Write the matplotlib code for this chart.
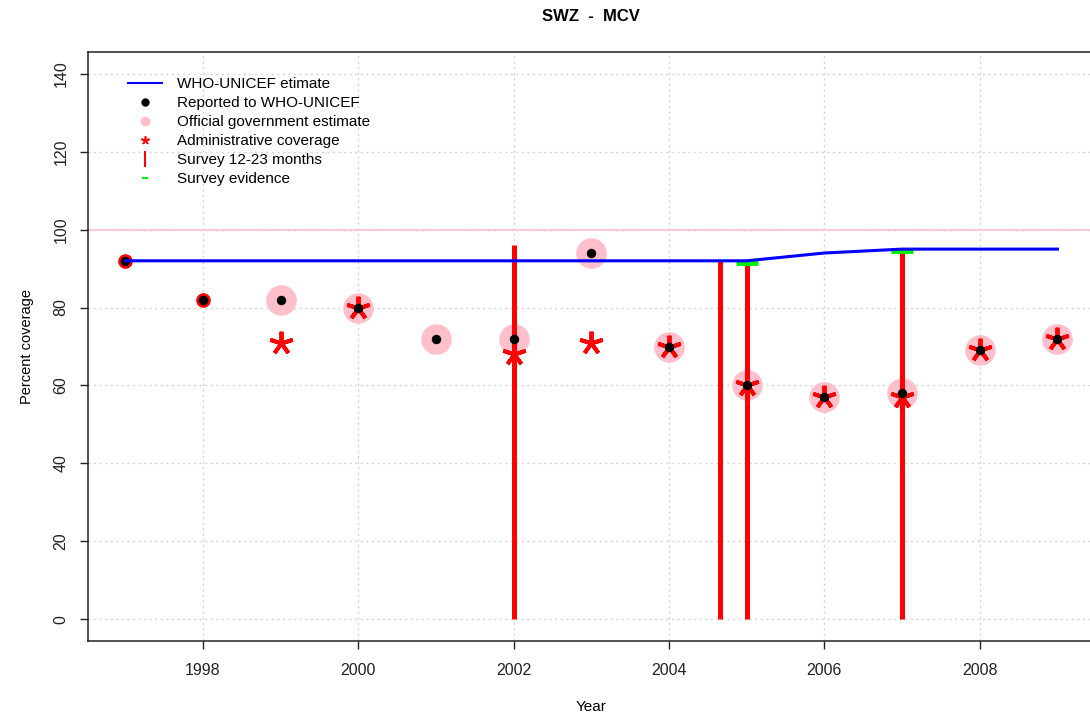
import numpy as np
import matplotlib.pyplot as plt
from matplotlib.lines import Line2D

plt.rcParams['font.family'] = ['Liberation Sans', 'DejaVu Sans']

# dados
anos = [1997, 1998, 1999, 2000, 2001, 2002, 2003, 2004, 2005, 2006, 2007, 2008, 2009]
wuenic = [92, 92, 92, 92, 92, 92, 92, 92, 92, 94, 95, 95, 95]
reportado = [92, 82, 82, 80, 72, 72, 94, 70, 60, 57, 58, 69, 72]

anos_oficial = [1999, 2000, 2001, 2002, 2003, 2004, 2005, 2006, 2007, 2008, 2009]
oficial = [82, 80, 72, 72, 94, 70, 60, 57, 58, 69, 72]

anos_admin = [1999, 2000, 2002, 2003, 2004, 2005, 2006, 2007, 2008, 2009]
admin = [71, 80, 68, 71, 70, 60, 57, 57, 69, 72]

anos_inicio = [1997, 1998]
admin_inicio = [92, 82]

anos_inquerito = [2002, 2004.65, 2005, 2007]
inquerito = [96, 92, 91.5, 95]

anos_evidencia = [2005, 2007]
evidencia = [91.5, 94.5]

fig = plt.figure(figsize=(10.9, 7.17), dpi=100)
ax = fig.add_axes([88 / 1090, 76 / 717, 1006.7 / 1090, 589 / 717])

ax.set_xlim(1996.52, 2009.48)
ax.set_ylim(-5.6, 145.6)

ax.set_xticks(range(1998, 2009, 2))
ax.set_yticks(range(0, 141, 20))
ax.grid(True, color='#d3d3d3', linestyle=(0, (1.5, 2.5)), linewidth=1)
ax.set_axisbelow(True)

ax.axhline(100, color='pink', linewidth=1.2, zorder=1)

ax.plot(anos_oficial, oficial, 'o', color='pink', markersize=21, zorder=2)
ax.vlines(anos_inquerito, 0, inquerito, color='red', linewidth=3.6, zorder=3)
ax.plot(anos_inicio, admin_inicio, 'o', color='red', markersize=9.5, zorder=3)
ax.plot(anos_admin, admin, linestyle='none', marker=(5, 2, 0), color='red',
        markersize=17, markeredgewidth=2.8, zorder=4)
ax.plot(anos, reportado, 'o', color='black', markersize=5.8, zorder=5)
ax.plot(anos, wuenic, color='blue', linewidth=2.2, zorder=6)
ax.plot(anos_evidencia, evidencia, linestyle='none', marker='_', color='#00ee00',
        markersize=16, markeredgewidth=3.5, zorder=5)

for s in ax.spines.values():
    s.set_linewidth(1.1)
    s.set_color('#222222')
ax.tick_params(axis='both', direction='out', length=6, width=1, labelsize=11.5,
               colors='#222222')
ax.tick_params(axis='x', pad=10)
ax.tick_params(axis='y', pad=8)
for lbl in ax.get_yticklabels():
    lbl.set_rotation(90)
    lbl.set_va('center')

ax.set_xlabel('Year', fontsize=11, labelpad=16)
ax.set_ylabel('Percent coverage', fontsize=10.5, labelpad=14)
ax.set_title('SWZ  -  MCV', fontsize=12, fontweight='bold', pad=22)

handles = [
    Line2D([], [], color='blue', linewidth=1.5),
    Line2D([], [], linestyle='none', marker='o', color='black', markersize=5),
    Line2D([], [], linestyle='none', marker='o', color='pink', markersize=6),
    Line2D([], [], linestyle='none', marker=(5, 2, 0), color='red', markersize=6,
           markeredgewidth=1.2),
    Line2D([], [], linestyle='none', marker='|', color='red', markersize=12,
           markeredgewidth=1.5),
    Line2D([], [], linestyle='none', marker='_', color='#00ee00', markersize=4,
           markeredgewidth=1.5),
]
labels = ['WHO-UNICEF etimate', 'Reported to WHO-UNICEF', 'Official government estimate',
          'Administrative coverage', 'Survey 12-23 months', 'Survey evidence']
ax.legend(handles, labels, loc='upper left', bbox_to_anchor=(128 / 1090, 1 - 77 / 717),
          bbox_transform=fig.transFigure, frameon=False, fontsize=11,
          handlelength=2.2, handletextpad=1.0, labelspacing=0.33,
          borderpad=0, borderaxespad=0)

plt.savefig('out.png', dpi=100)
plt.close()
